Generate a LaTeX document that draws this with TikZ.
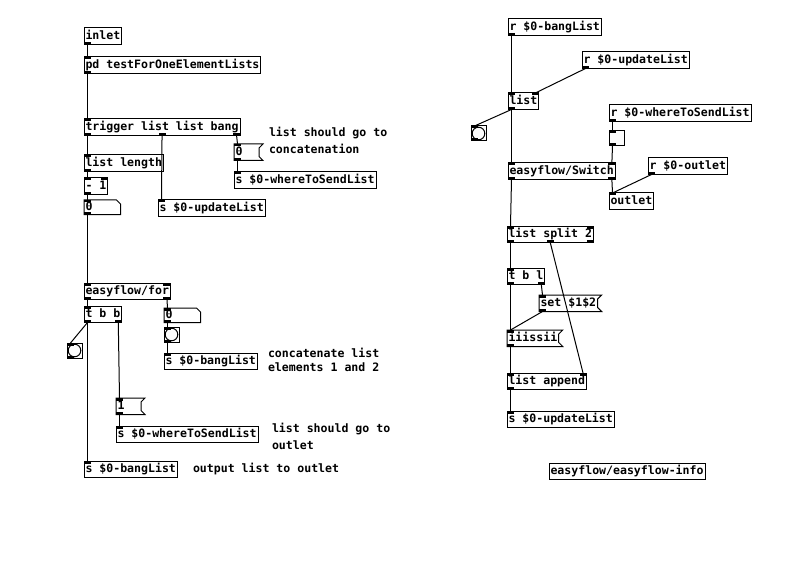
\documentclass[tikz,border=0pt]{standalone}
\usepackage{fontspec}
\newfontfamily\pdmono{DejaVu Sans Mono}
\usetikzlibrary{calc}
\definecolor{ink}{HTML}{000000}
\definecolor{guifill}{HTML}{FCFCFC}
\newcommand{\boxfont}{\pdmono\bfseries\fontsize{11.6}{17}\selectfont}
\newcommand{\tightfont}{\pdmono\bfseries\fontsize{11.6}{13.4}\selectfont}
\tikzset{
  every node/.style={font=\boxfont,text=ink,inner sep=0pt,outer sep=0pt},
  obj/.style={draw=ink,line width=1bp,fill=white,anchor=north west,inner xsep=1.5bp,
    minimum height=16.5bp,text height=9bp,text depth=2.5bp},
  msg/.style={obj,draw=none},
  atom/.style={obj,draw=none,minimum height=14.5bp,text width=33.5bp,align=left},
  gui/.style={draw=ink,fill=guifill,line width=1bp,anchor=north west,minimum size=15bp},
  comment/.style={anchor=north west,align=left},
  wire/.style={line width=1bp,draw=ink},
  nub/.style={fill=ink}
}
\begin{document}
\begin{tikzpicture}[x=1bp,y=-1bp]

\path[use as bounding box] (0,0) rectangle (791,566);
% left column: main patch, top to bottom
\node[obj] (inl) at (84,28) {inlet};
\node[obj] (pdt) at (84,57) {pd testForOneElementLists};
\node[obj] (trig) at (84,119) {trigger list list bang};
\node[obj] (llen) at (84,155) {list length};
\node[obj] (minus) at (84,178) {- 1};
\node[atom] (num0) at (84,200) {0};
\node[obj] (updA) at (158,200) {s \$0-updateList};
\node[msg,text width=22bp,align=left] (msg0) at (234,144) {0};
\node[obj] (wherA) at (234,172) {s \$0-whereToSendList};
\node[comment] (c1) at (269,127) {list should go to\\concatenation};

\node[obj] (for) at (84,283) {easyflow/for};
\node[obj] (tbb) at (84,306) {t b b};
\node[atom] (num1) at (164,308) {0};
\node[gui] (bng1) at (164,327) {};
\node[obj] (bangA) at (164,353) {s \$0-bangList};
\node[comment,font=\tightfont] (c2) at (268,348.5) {concatenate list\\elements 1 and 2};
\node[gui] (bng2) at (67,343) {};
\node[msg,text width=22bp,align=left] (msg1) at (116,398) {1};
\node[obj] (wherB) at (116,426) {s \$0-whereToSendList};
\node[comment] (c3) at (272,423) {list should go to\\outlet};
\node[obj] (bangB) at (84,461) {s \$0-bangList};
\node[comment] (c4) at (193,463) {output list to outlet};

% right column: receiving side
\node[obj] (rbang) at (508,19) {r \$0-bangList};
\node[obj] (rupd) at (582,52) {r \$0-updateList};
\node[obj] (lst) at (508,93) {list};
\node[gui] (bng3) at (471,126) {};
\node[obj] (rwhere) at (609,105) {r \$0-whereToSendList};
\node[gui] (tgl) at (609,131) {};
\node[obj] (switch) at (508,163) {easyflow/Switch};
\node[obj] (rout) at (648,158) {r \$0-outlet};
\node[obj] (outl) at (609,193) {outlet};
\node[obj] (split) at (507,226) {list split 2};
\node[obj] (tbl) at (507,268) {t b l};
\node[msg] (mset) at (539,295) {set \$1\$2};
\node[msg] (miii) at (507,330) {iiissii};
\node[obj] (app) at (507,373) {list append};
\node[obj] (updB) at (507,411) {s \$0-updateList};
\node[obj] (info) at (549,463) {easyflow/easyflow-info};

% message flags, number box corners, bang circles
\foreach \n in {msg0,msg1,mset,miii}
  \draw[line width=1bp] (\n.north west) -- ([xshift=4bp]\n.north east) -- ([yshift=-4bp]\n.north east)
    -- ([yshift=4bp]\n.south east) -- ([xshift=4bp]\n.south east) -- (\n.south west) -- cycle;
\foreach \n in {num0,num1}
  \draw[line width=1bp] (\n.north west) -- ([xshift=-4bp]\n.north east) -- ([yshift=-4bp]\n.north east)
    -- (\n.south east) -- (\n.south west) -- cycle;
\foreach \n in {bng1,bng2,bng3}
  \draw[line width=1bp] (\n.center) circle (6.3bp);

% inlets (top) and outlets (bottom), as fractions of the box width
\foreach \n/\fs in {pdt/0,trig/0,llen/0,minus/{0,1},num0/0,updA/0,msg0/0,wherA/0,
    for/{0,1},tbb/0,num1/0,bng1/0,bangA/0,bng2/0,msg1/0,wherB/0,bangB/0,
    lst/{0,1},bng3/0,tgl/0,switch/{0,1},outl/0,split/{0,1},tbl/0,mset/0,miii/0,app/{0,1},updB/0}
  \foreach \f [count=\k from 0] in \fs {
    \coordinate (\n-i\k) at ($([xshift=3.5bp]\n.north west)!\f!([xshift=-3.5bp]\n.north east)$);
    \fill[nub] ([xshift=-3.5bp]\n-i\k) rectangle ([xshift=3.5bp,yshift=-2.5bp]\n-i\k);
  }
\foreach \n/\fs in {inl/0,pdt/0,trig/{0,0.5,1},llen/0,minus/0,num0/0,msg0/0,
    for/{0,1},tbb/{0,1},num1/0,bng1/0,bng2/0,msg1/0,
    rbang/0,rupd/0,lst/0,bng3/0,rwhere/0,tgl/0,switch/{0,1},rout/0,
    split/{0,0.5,1},tbl/{0,1},mset/0,miii/0,app/0}
  \foreach \f [count=\k from 0] in \fs {
    \coordinate (\n-o\k) at ($([xshift=3.5bp]\n.south west)!\f!([xshift=-3.5bp]\n.south east)$);
    \fill[nub] ([xshift=-3.5bp]\n-o\k) rectangle ([xshift=3.5bp,yshift=2.5bp]\n-o\k);
  }

% patch cords
\foreach \a/\b in {inl-o0/pdt-i0,pdt-o0/trig-i0,trig-o0/llen-i0,trig-o1/updA-i0,trig-o2/msg0-i0,
    msg0-o0/wherA-i0,llen-o0/minus-i0,minus-o0/num0-i0,num0-o0/for-i0,
    for-o0/tbb-i0,for-o1/num1-i0,num1-o0/bng1-i0,bng1-o0/bangA-i0,
    tbb-o0/bng2-i0,tbb-o0/bangB-i0,tbb-o1/msg1-i0,msg1-o0/wherB-i0}
  \draw[wire] (\a) -- (\b);
\foreach \a/\b in {rbang-o0/lst-i0,rupd-o0/lst-i1,lst-o0/bng3-i0,lst-o0/switch-i0,
    rwhere-o0/tgl-i0,tgl-o0/switch-i1,switch-o1/outl-i0,rout-o0/outl-i0,
    switch-o0/split-i0,split-o0/tbl-i0,split-o1/app-i1,tbl-o0/miii-i0,tbl-o1/mset-i0,
    mset-o0/miii-i0,miii-o0/app-i0,app-o0/updB-i0}
  \draw[wire] (\a) -- (\b);
\end{tikzpicture}
\end{document}
